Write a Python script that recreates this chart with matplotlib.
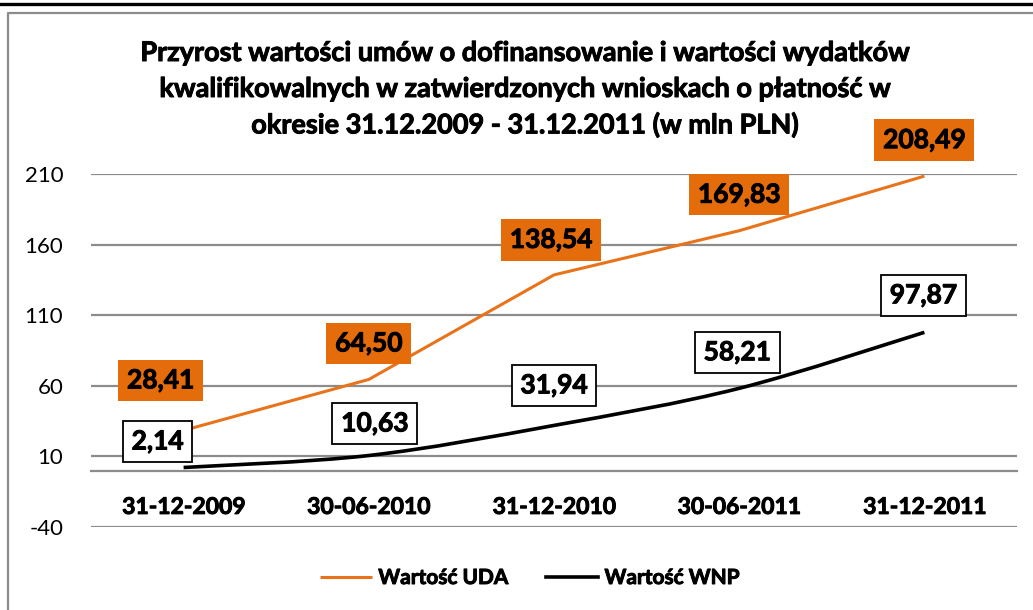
import matplotlib
matplotlib.use("Agg")
import matplotlib.pyplot as plt
from matplotlib.lines import Line2D
from matplotlib.path import Path
from matplotlib.patches import PathPatch
import matplotlib.patheffects as pe
import numpy as np

plt.rcParams['font.family'] = ['Lato', 'DejaVu Sans']

# ---- data ----
title_lines = ["Przyrost wartości umów o dofinansowanie i wartości wydatków",
               "kwalifikowalnych w zatwierdzonych wnioskach o płatność w",
               "okresie 31.12.2009 - 31.12.2011 (w mln PLN)"]
categories = ["31-12-2009", "30-06-2010", "31-12-2010", "30-06-2011", "31-12-2011"]
uda_values = [28.41, 64.50, 138.54, 169.83, 208.49]
wnp_values = [2.14, 10.63, 31.94, 58.21, 97.87]
series_names = ["Wartość UDA", "Wartość WNP"]
y_ticks = [-40, 10, 60, 110, 160, 210]

# ---- style ----
ORANGE_LINE = '#E8731B'
ORANGE_BOX = '#E46C0A'
GRID = '#8C8C8C'
uda_offsets = [(-23, 50), (0, 36), (-3, 35), (0, 36), (0, 36)]
wnp_offsets = [(-26, 26), (6, 32), (0, 40), (-2, 36), (-1, 37)]
title_line_y_px = [53, 89, 125]
BOLDER = [pe.withStroke(linewidth=0.7, foreground='black')]

W, H = 1033, 610
fig = plt.figure(figsize=(W / 100, H / 100), dpi=100)
ax = fig.add_axes([91 / W, 1 - 527 / H, (1017 - 91) / W, (527 - 174) / H])

x = np.arange(len(categories))
ax.set_xlim(-0.5, len(categories) - 0.5)
ax.set_ylim(min(y_ticks), max(y_ticks))
ax.yaxis.grid(True, color=GRID, linewidth=1.6)
ax.set_axisbelow(True)
for s in ['top', 'right', 'left']:
    ax.spines[s].set_visible(False)
ax.spines['bottom'].set_position(('data', 0))
ax.spines['bottom'].set_color(GRID)
ax.spines['bottom'].set_linewidth(1.6)
ax.tick_params(axis='both', length=0)
ax.tick_params(axis='y', labelsize=16, pad=20)
ax.tick_params(axis='x', labelsize=16.5, pad=19)
ax.set_yticks(y_ticks)
ax.set_yticklabels([str(v) for v in y_ticks])
ax.set_xticks(x)
ax.set_xticklabels(categories)
for t in ax.get_xticklabels():
    t.set_fontweight('bold')
    t.set_path_effects(BOLDER)

# orange straight line
ax.plot(x, uda_values, color=ORANGE_LINE, linewidth=2.2, solid_capstyle='butt',
        label=series_names[0], zorder=3)

# black smoothed line (bezier through data points)
pts = np.column_stack([x, wnp_values]).astype(float)
verts = [tuple(pts[0])]
codes = [Path.MOVETO]
n = len(pts)
for i in range(n - 1):
    p0 = pts[max(i - 1, 0)]
    p1 = pts[i]
    p2 = pts[i + 1]
    p3 = pts[min(i + 2, n - 1)]
    c1 = p1 + (p2 - p0) / 6.0
    c2 = p2 - (p3 - p1) / 6.0
    verts += [tuple(c1), tuple(c2), tuple(p2)]
    codes += [Path.CURVE4] * 3
patch = PathPatch(Path(verts, codes), facecolor='none', edgecolor='black',
                  linewidth=2.6, zorder=3, capstyle='butt')
ax.add_patch(patch)
ax.plot([], [], color='black', linewidth=2.6, label=series_names[1])

def fmt(v):
    return f"{v:.2f}".replace('.', ',')

for xi, v, off in zip(x, uda_values, uda_offsets):
    ax.annotate(fmt(v), (xi, v), xytext=off, textcoords='offset pixels',
                ha='center', va='center', fontsize=19, fontweight='bold', color='black',
                bbox=dict(boxstyle='square,pad=0.33', facecolor=ORANGE_BOX, edgecolor='none'),
                zorder=5, path_effects=BOLDER)
for xi, v, off in zip(x, wnp_values, wnp_offsets):
    ax.annotate(fmt(v), (xi, v), xytext=off, textcoords='offset pixels',
                ha='center', va='center', fontsize=19, fontweight='bold', color='black',
                bbox=dict(boxstyle='square,pad=0.33', facecolor='white', edgecolor='black',
                          linewidth=1.3),
                zorder=5, path_effects=BOLDER)

for line, ypx in zip(title_lines, title_line_y_px):
    fig.text(525 / W, 1 - ypx / H, line, ha='center', va='center', fontsize=19.5,
             fontweight='bold', path_effects=BOLDER)

leg = ax.legend(loc='center', bbox_to_anchor=(530 / W, 1 - 578 / H),
                bbox_transform=fig.transFigure, ncol=2, frameon=False,
                prop={'weight': 'bold', 'size': 15}, handlelength=2.5,
                handletextpad=0.3, columnspacing=1.8)
for t in leg.get_texts():
    t.set_path_effects(BOLDER)

# outer frame
fig.add_artist(Line2D([0, 1], [1 - 4 / H] * 2, transform=fig.transFigure,
                      color='black', linewidth=2.4))
fig.add_artist(Line2D([7.5 / W, 7.5 / W, 1], [0, 1 - 13 / H, 1 - 13 / H],
                      transform=fig.transFigure, color=GRID, linewidth=1.6))

fig.savefig('out.png', dpi=100)
